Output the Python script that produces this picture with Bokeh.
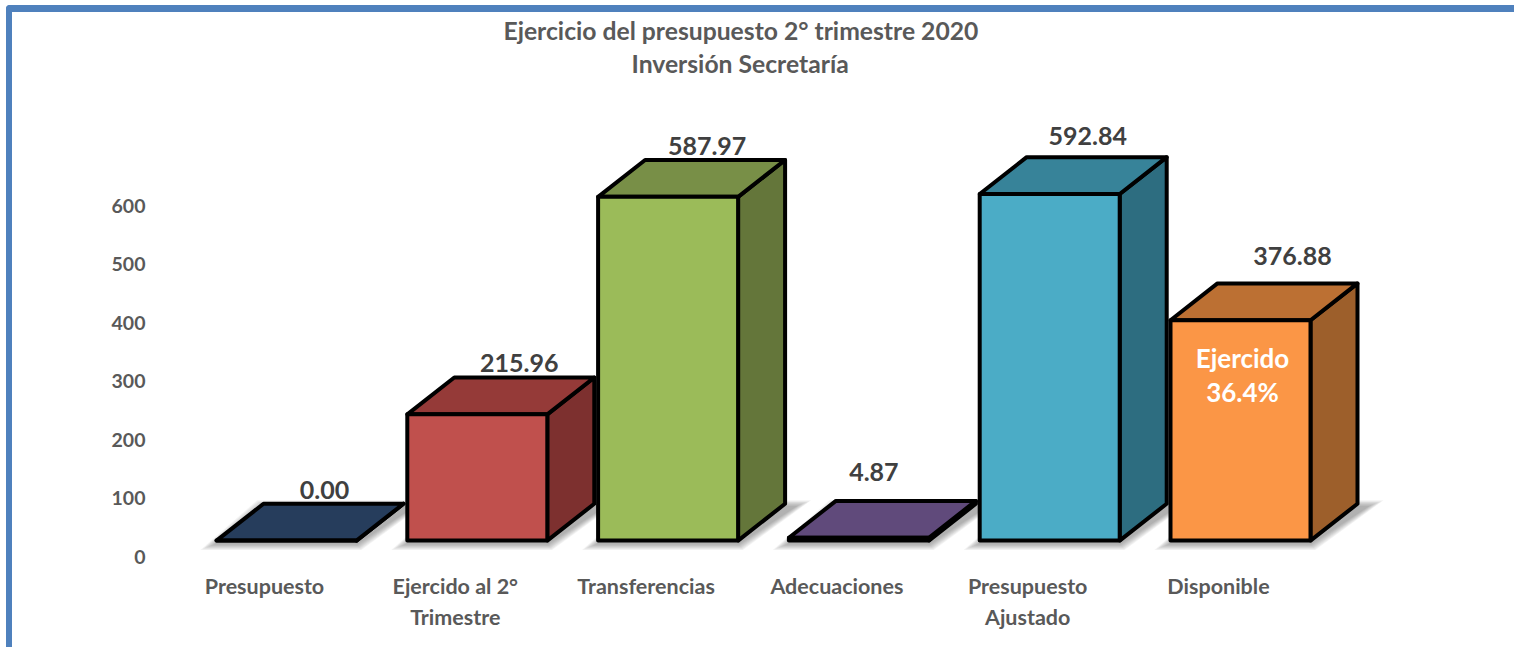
from bokeh.embed import file_html
from bokeh.resources import INLINE
from bokeh.plotting import figure
from bokeh.models import Range1d, FixedTicker, Title
from bokeh.core.properties import value

categories = ["Presupuesto", "Ejercido al 2°\nTrimestre", "Transferencias",
              "Adecuaciones", "Presupuesto\nAjustado", "Disponible"]
values = [0.00, 215.96, 587.97, 4.87, 592.84, 376.88]
value_labels = ["0.00", "215.96", "587.97", "4.87", "592.84", "376.88"]
y_ticks = [0, 100, 200, 300, 400, 500, 600]
front_colors = ["#1f497d", "#c0504d", "#9bbb59", "#8064a2", "#4bacc6", "#fb9646"]
top_colors = ["#263d5c", "#953a38", "#788f47", "#604a7b", "#378399", "#bc7033"]
side_colors = ["#1b3555", "#7d302f", "#64763a", "#4f3d66", "#2d6d80", "#9d5f2b"]
title_lines = ["Ejercicio del presupuesto 2° trimestre 2020", "Inversión Secretaría"]
note_lines = ["Ejercido", "36.4%"]

FONT = "Lato"
PX_X = 190.8           # pixels per category
PX_Y = 0.587           # pixels per value unit
W, H = 1502, 635
LEFT, TOP, BOTTOM = 138, 64, 94
X0_PAGE = 264          # page x of first tick
Y0_PAGE = 556          # page y of value 0


def px_x(n):
    return n / PX_X


def px_y(n):
    return n / PX_Y


LIFT = px_y(16)
DX, DY = px_x(47), px_y(37)
BAR_L, BAR_R = px_x(-48), px_x(92)

p = figure(width=W, height=H, output_backend="svg", toolbar_location=None,
           x_range=Range1d((150 - X0_PAGE) / PX_X, (1520 - X0_PAGE) / PX_X),
           y_range=Range1d((Y0_PAGE - 560) / PX_Y, (Y0_PAGE - 76) / PX_Y),
           min_border_left=LEFT, min_border_top=TOP, min_border_bottom=BOTTOM,
           min_border_right=0, outline_line_color=None, tools="")
p.styles = {
    "box-sizing": "content-box",
    "margin": "5px 0 0 6px",
    "border-left": "6px solid #4f81bd",
    "border-top": "7px solid #4f81bd",
    "border-top-left-radius": "4px",
}
p.grid.visible = False

for axis in (p.xaxis[0], p.yaxis[0]):
    axis.axis_line_color = None
    axis.major_tick_line_color = None
    axis.minor_tick_line_color = None
    axis.major_tick_out = 0
    axis.major_label_text_font = FONT
    axis.major_label_text_font_style = "bold"
    axis.major_label_text_color = "#595959"
p.yaxis[0].major_label_text_font_size = "19.5px"
p.xaxis[0].major_label_text_font_size = "21.5px"
p.yaxis[0].ticker = FixedTicker(ticks=y_ticks)
p.yaxis[0].major_label_standoff = 5
p.xaxis[0].ticker = FixedTicker(ticks=list(range(len(categories))))
p.xaxis[0].major_label_overrides = {i: c for i, c in enumerate(categories)}
p.xaxis[0].major_label_standoff = 12

for text, off in zip(reversed(title_lines), (481, 353)):
    p.add_layout(Title(text=text, align="left", offset=off, text_font=FONT,
                       text_font_style="bold", text_font_size="24.7px",
                       text_color="#595959", standoff=2), "above")

# soft ground shadows
for grow in range(16, 0, -2):
    xs, ys = [], []
    for i in range(len(values)):
        xl, xr = i + BAR_L, i + BAR_R
        g = px_x(grow)
        gy = px_y(grow * 0.4)
        base = LIFT
        xs.append([xl - g, xr + g * 0.3, xr + DX + px_x(10) + g, xl + DX - g * 0.4])
        ys.append([base - px_y(3) - gy, base - px_y(3) - gy, base + DY - px_y(3) + gy, base + DY - px_y(3) + gy])
    p.patches(xs, ys, fill_color="#555555", fill_alpha=0.07, line_color=None)

# bars drawn from the values
for i, v in enumerate(values):
    xl, xr = i + BAR_L, i + BAR_R
    yb, yt = LIFT, LIFT + v
    common = dict(line_color="black", line_width=4, line_join="round")
    p.patch([xr, xr + DX, xr + DX, xr], [yb, yb + DY, yt + DY, yt], fill_color=side_colors[i], **common)
    p.patch([xl, xl + DX, xr + DX, xr], [yt, yt + DY, yt + DY, yt], fill_color=top_colors[i], **common)
    p.patch([xl, xr, xr, xl], [yb, yb, yt, yt], fill_color=front_colors[i], **common)

# value labels, hand placed in the original
label_dx = [60, 64, 61, 37, 60, 74]
label_dy = [-5, -5, -5, -20, -12, -18]
p.text([i + px_x(d) for i, d in enumerate(label_dx)],
       [LIFT + v + DY for v in values],
       text=value_labels, y_offset=label_dy,
       text_font=value(FONT), text_font_style="bold", text_font_size="25px",
       text_color="#404040", text_align="center", text_baseline="bottom")

# note inside the last bar
p.text([5 + px_x(24)] * 2, [LIFT + values[5]] * 2, text=note_lines, y_offset=[38, 72],
       text_font=value(FONT), text_font_style="bold", text_font_size="26px",
       text_color="white", text_align="center", text_baseline="middle")

open("out.html", "w").write(file_html(p, INLINE))
